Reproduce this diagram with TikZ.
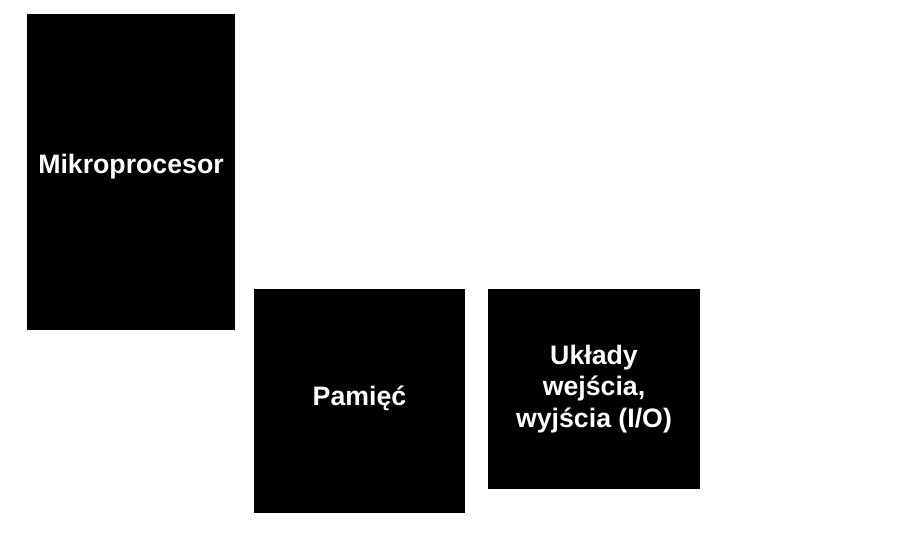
\documentclass[tikz,border=0pt]{standalone}
\usepackage{fontspec}
\setmainfont{Liberation Sans}
\usetikzlibrary{positioning}

\tikzset{
  block/.style={fill=black,text=white,inner sep=0pt,outer sep=0pt,align=center,
    font=\fontsize{26.7}{31.5}\selectfont\bfseries}
}

\begin{document}
\begin{tikzpicture}[x=1pt,y=-1pt]
\useasboundingbox[fill=white] (0,0) rectangle (921,534);

%blocks
\node[block,minimum width=208pt,minimum height=316pt] (cpu) at (131,172) {};
\node[block,minimum width=211pt,minimum height=224pt] (mem) at (359.5,401) {};
\node[block,minimum width=212pt,minimum height=200pt] (io) at (594,389) {};

%labels
\node[block,fill=none] (cpuText) at ([yshift=5pt]cpu.center) {Mikroprocesor};
\node[block,fill=none] (memText) at ([yshift=3pt]mem.center) {Pamięć};
\node[block,fill=none] (ioText) at (io.center) {Układy\\wejścia,\\wyjścia (I/O)};
\end{tikzpicture}
\end{document}
